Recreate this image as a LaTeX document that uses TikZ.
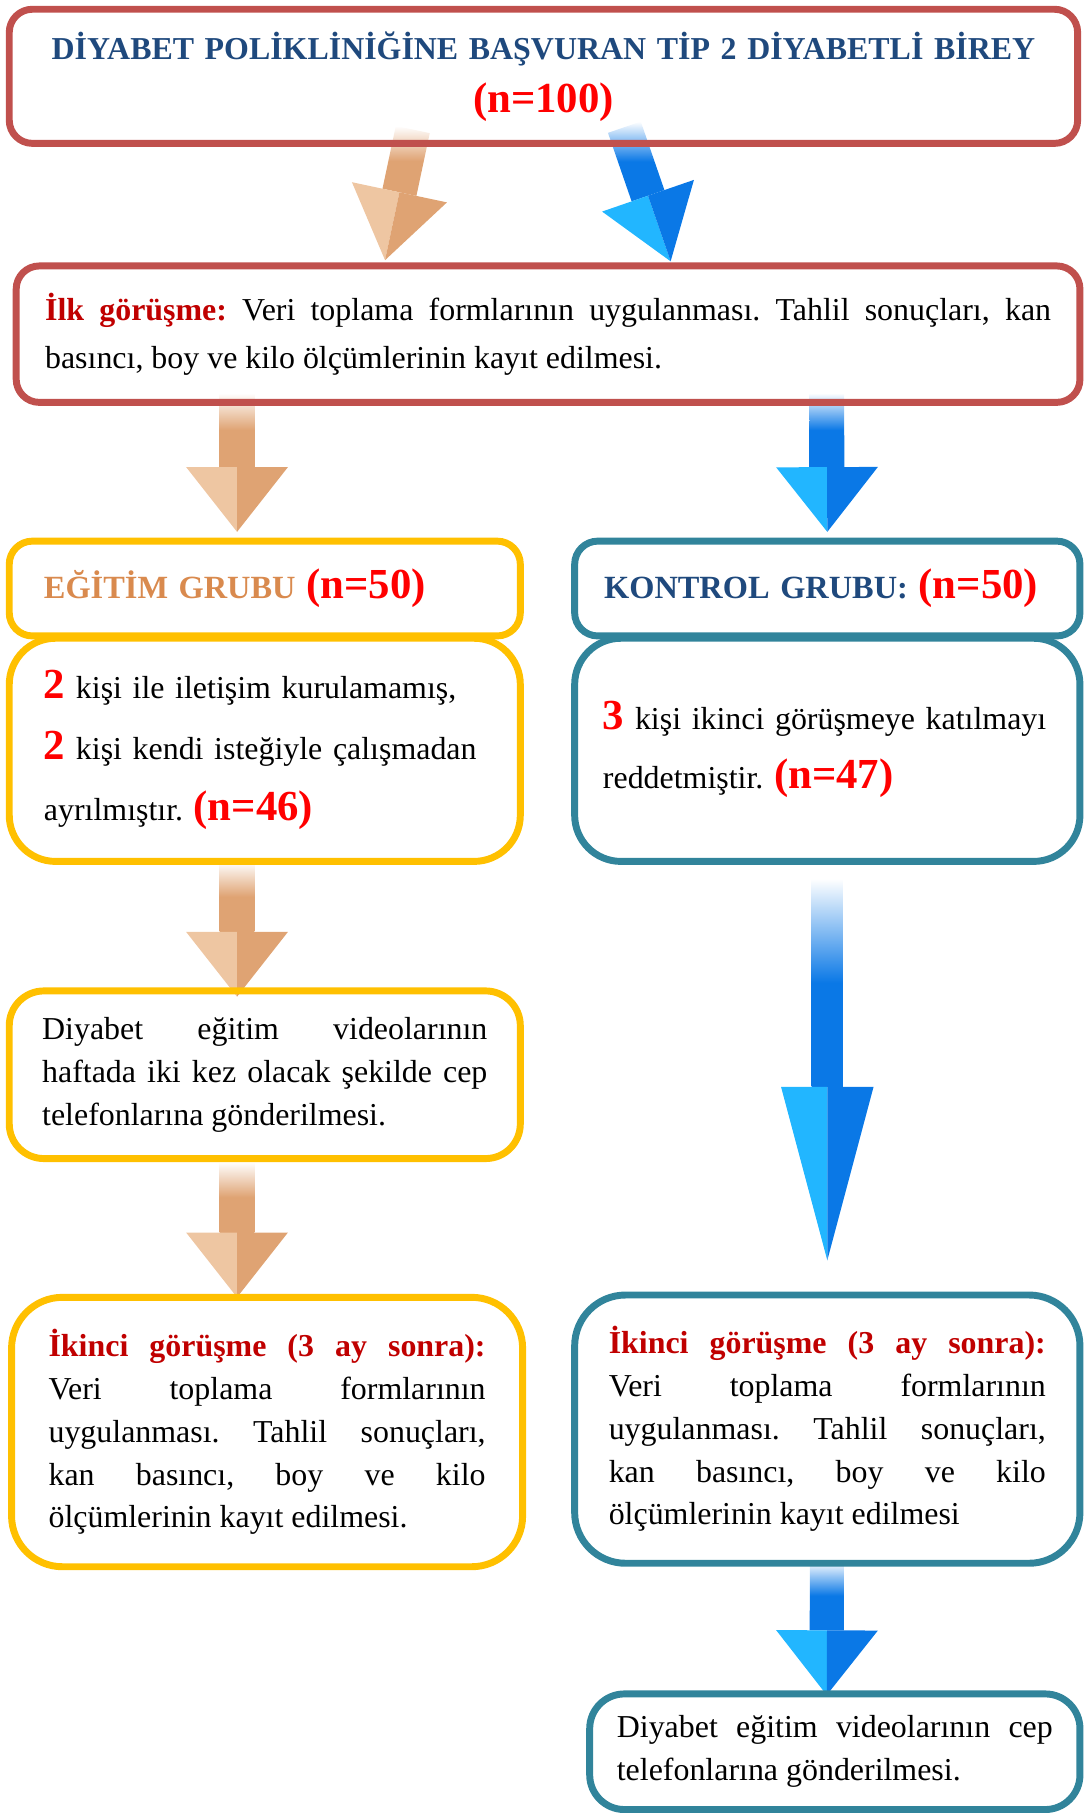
\documentclass[tikz,border=0pt]{standalone}
\usepackage{fontspec}
\setmainfont{Liberation Serif}
\usetikzlibrary{calc, backgrounds}
\frenchspacing

\definecolor{redline}{HTML}{C0504D}
\definecolor{yelline}{HTML}{FFC000}
\definecolor{tealline}{HTML}{31849B}
\definecolor{titleblue}{HTML}{1F497D}
\definecolor{headred}{HTML}{C00000}
\definecolor{egitimtan}{HTML}{D98A4E}
\definecolor{nred}{HTML}{FF0000}
\definecolor{tanlight}{HTML}{EEC6A2}
\definecolor{tandark}{HTML}{DFA373}
\definecolor{bluelight}{HTML}{22B6FF}
\definecolor{bluedark}{HTML}{0A78E6}

\newcommand{\nval}[1]{{\color{nred}\bfseries\fontsize{18.5}{18.5}\selectfont #1}}
\newcommand{\headred}[1]{{\color{headred}\bfseries #1}}

% block arrow: colour, tail, tip, head length, head half width, shaft half width
\newcommand{\fatarrow}[6]{%
  \coordinate (fa-t) at #2;
  \coordinate (fa-p) at #3;
  \coordinate (fa-h) at ($(fa-p)!#4!(fa-t)$);
  \shade[top color=white, bottom color=#1dark, middle color=#1dark]
    ($(fa-t)!#6!90:(fa-p)$) -- ($(fa-h)!#6!-90:(fa-t)$) --
    ($(fa-h)!#6!90:(fa-t)$) -- ($(fa-t)!#6!-90:(fa-p)$) -- cycle;
  \fill[#1light] (fa-h) -- ($(fa-h)!#5!90:(fa-t)$) -- (fa-p) -- cycle;
  \fill[#1dark] (fa-h) -- ($(fa-h)!#5!-90:(fa-t)$) -- (fa-p) -- cycle;
}

\begin{document}
\begin{tikzpicture}[x=0.5pt, y=-0.5pt,
    box/.style={draw, line width=3pt, rounded corners=#1, inner sep=2pt, outer sep=0pt,
      font=\fontsize{13.8}{18.5}\selectfont},
    box/.default=10pt,
    redbox/.style={box=10pt, draw=redline},
    yelbox/.style={box=#1, draw=yelline},
    tealbox/.style={box=#1, draw=tealline}]

            \useasboundingbox (0,0) rectangle (937,1568);

            % Draw the first box and the first interview
            \node[redbox, minimum width=462pt, minimum height=58pt, text width=450pt, align=center,
              font=\fontsize{13.8}{23}\selectfont] (basvuru) at (470,66)
              {{\color{titleblue}\bfseries DİYABET POLİKLİNİĞİNE BAŞVURAN TİP 2 DİYABETLİ BİREY}\\ \nval{(n=100)}};
            \node[redbox, minimum width=460pt, minimum height=59pt, text width=435pt, align=justify,
              font=\fontsize{13.8}{21}\selectfont] (ilk) at (474,289)
              {\headred{İlk görüşme:} Veri toplama formlarının uygulanması. Tahlil sonuçları, kan\linebreak
               basıncı, boy ve kilo ölçümlerinin kayıt edilmesi.};

            % Draw the two groups
            \node[yelbox=10pt, minimum width=221pt, minimum height=41pt, text width=191pt, align=left] (egitim) at (229,509)
              {{\color{egitimtan}\bfseries\fontsize{14}{14}\selectfont EĞİTİM GRUBU} \nval{(n=50)}};
            \node[tealbox=10pt, minimum width=218.5pt, minimum height=41pt, text width=193pt, align=left] (kontrol) at (715.5,509)
              {{\color{titleblue}\bfseries\fontsize{14}{14}\selectfont KONTROL GRUBU:} \nval{(n=50)}};

            \node[yelbox=20pt, minimum width=221pt, minimum height=96.5pt, text width=191pt, align=left,
              font=\fontsize{13.8}{26.5}\selectfont] (egbody) at (229,648.5)
              {\nval{2} kişi ile iletişim kurulamamış,\\ \nval{2} kişi kendi isteğiyle çalışmadan\\ ayrılmıştır. \nval{(n=46)}};
            \node[tealbox=20pt, minimum width=218.5pt, minimum height=96.5pt, text width=194pt, align=left,
              font=\fontsize{13.8}{25.5}\selectfont] (kobody) at (715.5,648.5)
              {\nval{3} kişi ikinci görüşmeye katılmayı\\ reddetmiştir. \nval{(n=47)}};

            % Draw the videos and the second interviews
            \node[yelbox=15pt, minimum width=221pt, minimum height=72.5pt, text width=192.5pt, align=justify] (video) at (229,929.5)
              {Diyabet eğitim videolarının\linebreak haftada iki kez olacak şekilde cep\linebreak telefonlarına gönderilmesi.};
            \node[yelbox=22pt, minimum width=221pt, minimum height=116.5pt, text width=189pt, align=justify] (ikinci1) at (231,1238.5)
              {\headred{İkinci görüşme (3 ay sonra):}\linebreak Veri toplama formlarının\linebreak uygulanması. Tahlil sonuçları,\linebreak
               kan basıncı, boy ve kilo\linebreak ölçümlerinin kayıt edilmesi.};
            \node[tealbox=22pt, minimum width=218.5pt, minimum height=116pt, text width=189pt, align=justify] (ikinci2) at (715.5,1236)
              {\headred{İkinci görüşme (3 ay sonra):}\linebreak Veri toplama formlarının\linebreak uygulanması. Tahlil sonuçları,\linebreak
               kan basıncı, boy ve kilo\linebreak ölçümlerinin kayıt edilmesi};
            \node[tealbox=15pt, minimum width=212pt, minimum height=50pt, text width=188.5pt, align=justify] (video2) at (722,1515)
              {Diyabet eğitim videolarının cep\linebreak telefonlarına gönderilmesi.};

            \begin{pgfonlayer}{background}
            % Arrows from the first box to the first interview
            \fatarrow{tan}{($(basvuru.south)+(-113,-12)$)}{($(ilk.north)+(-141,-5)$)}{30pt}{21pt}{7.5pt}
            \fatarrow{blue}{($(basvuru.south)+(70,-14)$)}{($(ilk.north)+(106,-4)$)}{30pt}{21pt}{7.5pt}

            % Arrows connecting the first interview to the groups
            \fatarrow{tan}{($(ilk.south)+(-269,-8)$)}{($(egitim.north)+(-24,-8)$)}{28pt}{22pt}{7.5pt}
            \fatarrow{blue}{($(ilk.south)+(241,-8)$)}{($(kontrol.north)+(0,-8)$)}{28pt}{22pt}{7.5pt}

            % Arrows down the education group
            \fatarrow{tan}{($(egbody.south)+(-24,0)$)}{($(video.north)+(-24,5)$)}{28pt}{22pt}{7.5pt}
            \fatarrow{tan}{($(video.south)+(-24,3)$)}{($(ikinci1.north)+(-26,0)$)}{28pt}{22pt}{7.5pt}

            % Arrows down the control group
            \fatarrow{blue}{($(kobody.south)+(0,15)$)}{($(ikinci2.north)+(0,-30)$)}{75pt}{20pt}{6.75pt}
            \fatarrow{blue}{($(ikinci2.south)+(0,-2)$)}{($(video2.north)+(-7,1)$)}{28pt}{22pt}{7.5pt}
            \end{pgfonlayer}

        \end{tikzpicture}
\end{document}
